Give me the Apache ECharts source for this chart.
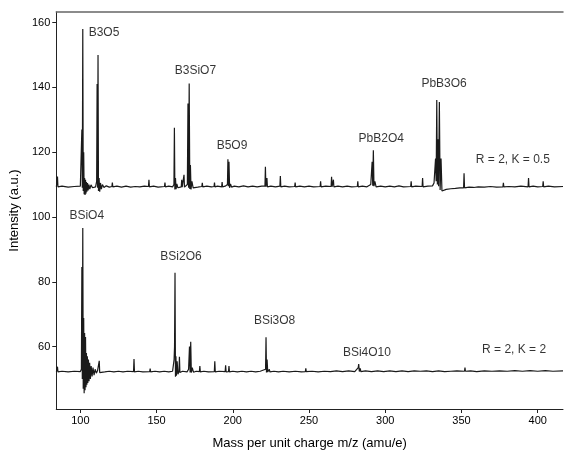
<!DOCTYPE html>
<html>
<head>
<meta charset="utf-8">
<script src="https://cdn.jsdelivr.net/npm/echarts@6/dist/echarts.min.js"></script>
<style>html,body{margin:0;padding:0;background:#fff}#c{width:564px;height:456px}</style>
</head>
<body>
<div id="c"></div>
<script>
// ---- data ----
var xTicks = [100, 150, 200, 250, 300, 350, 400];
var yTicks = [60, 80, 100, 120, 140, 160];
var xRange = [84.2, 416.6];
var yRange = [40.75, 163.24];

// upper trace (R = 2, K = 0.5): [m/z, intensity]
var upperTrace = [
[84.3,109.3],[84.8,109.5],[85,112.5],[85.3,109.3],[88,109.5],[92,109.2],[96,109.4],[100,109.5],[100.6,110],[101.0,127],
[101.3,109],[101.6,158],[101.9,108],[102.2,120],[102.5,107],[102.8,112],[103.1,106.8],[103.4,111.5],[103.7,107.2],[104.0,110.8],
[104.3,107.8],[104.7,110.5],[105.1,108.2],[105.6,110],[106.2,108.6],[107,109.9],[108,109],[109,109.6],[110,109.3],[110.7,111],
[111.0,141],[111.3,109],[111.6,150],[111.9,108],[112.3,112],[112.7,107.8],[113.2,110.5],[113.8,108.6],[114.5,110],[115.5,109.1],
[117,109.6],[119,109.2],[120.7,109.4],[121,110.6],[121.3,109.3],[124,109.5],[127,109.2],[130,109.5],[133,109.2],[136,109.4],
[139,109.3],[142,109.5],[144.7,109.4],[145,111.5],[145.3,109.3],[148,109.5],[151,109.2],[155.2,109.4],[155.5,110.6],[155.8,109.3],
[158,109.5],[160.5,109.3],[161.4,110],[161.7,127.5],[162,108.5],[162.4,112],[162.8,108.6],[163.3,110.2],[164,109],[165,109.6],
[166.2,109.3],[166.5,111.5],[166.8,109.2],[167.7,109.4],[168,113],[168.3,109.2],[169,109.6],[170.2,110],[170.6,135],[171,109],
[171.4,141.2],[171.8,108.6],[172.2,116],[172.6,108.5],[173.2,111],[174,109],[175,109.6],[177,109.2],[179.7,109.4],[180,110.5],
[180.3,109.3],[183,109.5],[186,109.3],[187.7,109.4],[188,110.6],[188.3,109.3],[190,109.5],[192.7,109.3],[193,110.8],[193.3,109.3],
[195,109.5],[196.5,110],[196.8,117.8],[197.1,109.5],[197.5,117],[197.9,109],[198.5,110.2],[199.2,109.2],[201,109.5],[204,109.3],
[207,109.6],[210,109.3],[213,109.5],[216,109.3],[219,109.5],[221.1,109.5],[221.4,115.5],[221.7,109.3],[222.1,109.6],[222.4,112],
[222.7,109.3],[225,109.5],[228,109.3],[230.9,109.5],[231.2,112.6],[231.5,109.3],[234,109.5],[237,109.3],[240.6,109.4],[240.9,110.6],
[241.2,109.3],[244,109.5],[247,109.3],[250,109.5],[253,109.3],[257.3,109.4],[257.6,111],[257.9,109.3],[261,109.5],[264.5,109.4],
[264.8,112.4],[265.1,109.3],[265.7,109.5],[266,111.5],[266.3,109.3],[269,109.5],[272,109.3],[275,109.5],[278,109.3],[281.7,109.4],
[282,111],[282.3,109.3],[285,109.5],[288,109.3],[290.5,110],[291.4,117],[291.8,109.6],[292.2,120.6],[292.6,109.5],[293.2,111],
[294,109.3],[297,109.5],[300,109.3],[303,109.5],[306,109.3],[309,109.6],[312,109.3],[316.7,109.4],[317,111],[317.3,109.3],
[320,109.5],[324.2,109.4],[324.5,112],[324.8,109.3],[328,109.5],[331,109.6],[332,110.5],[333,118],[333.4,111],[333.8,136.1],
[334.2,110],[334.6,124],[335,109.5],[335.5,135.5],[336,108.3],[336.6,118],[337.2,108],[338,108.3],[340,108.5],[343,108.7],
[346,108.8],[349,109],[351.4,109],[351.7,113.5],[352,109],[355,109.2],[358,109.1],[361,109.3],[365,109.2],[369,109.4],
[373,109.2],[377.2,109.3],[377.5,110.5],[377.8,109.3],[381,109.4],[385,109.3],[389,109.5],[393.7,109.3],[394,112],[394.3,109.3],
[397,109.5],[400,109.3],[403.3,109.4],[403.6,111],[403.9,109.3],[407,109.5],[411,109.3],[416.6,109.4]
];

// lower trace (R = 2, K = 2): [m/z, intensity]
var lowerTrace = [
[84.3,52.3],[84.8,52.4],[85,53.8],[85.3,52.2],[88,52.4],[92,52.2],[96,52.4],[100,52.3],[100.7,53],[101.0,84.6],
[101.3,50],[101.6,96.6],[101.9,47],[102.2,68.8],[102.5,45.6],[102.8,64.2],[103.1,46.5],[103.4,63],[103.7,47.5],[104.0,58],
[104.3,48.2],[104.6,57],[104.9,48.8],[105.3,56],[105.7,49.3],[106.1,55],[106.6,50],[107.1,54],[107.7,50.8],[108.3,53.5],
[109,51.2],[109.7,53],[110.5,51.8],[111.3,52.6],[112.1,52.1],[112.4,55.6],[112.7,52],[114,52.4],[116,52.2],[119,52.4],
[122,52.2],[125,52.4],[128,52.2],[131,52.4],[134.9,52.3],[135.2,56.2],[135.5,52.2],[138,52.4],[141,52.2],[145.5,52.3],
[145.8,53.2],[146.1,52.2],[149,52.4],[152,52.2],[155,52.4],[158,52.2],[160.5,52.4],[161.5,56],[161.8,60],[162.1,82.8],
[162.4,50.7],[162.7,57],[163,51],[163.5,55.5],[164,51.5],[164.7,52.3],[165,56.9],[165.3,52],[167,52.4],[170,52.2],
[171,53],[171.6,60],[172,52],[172.4,61.5],[172.8,52],[173.4,53.5],[174.2,52.1],[176,52.4],[178.1,52.3],[178.4,54],
[178.7,52.2],[181,52.4],[184,52.2],[187.9,52.3],[188.2,55.5],[188.5,52.2],[191,52.4],[195,52.3],[195.3,54.2],[195.6,52.2],
[197.2,52.3],[197.5,54],[197.8,52.2],[200,52.4],[203,52.2],[206,52.4],[209,52.2],[212,52.4],[215,52.2],[218,52.4],
[221.5,53],[221.8,62.9],[222.1,52],[222.5,56],[222.9,52.2],[223.7,52.3],[224,53],[224.3,52.2],[227,52.4],[230,52.2],
[233,52.4],[237,52.2],[241,52.4],[245,52.2],[247.6,52.3],[247.9,53.3],[248.2,52.3],[252,52.4],[256,52.2],[260,52.4],
[264,52.3],[268,52.5],[272,52.3],[276,52.5],[280,52.3],[282.3,53.5],[282.6,54.6],[283,52.3],[283.6,53.3],[284,52.3],
[287,52.5],[291,52.3],[295,52.5],[299,52.3],[303,52.5],[307,52.3],[311,52.5],[315,52.3],[319,52.5],[323,52.4],
[327,52.5],[331,52.3],[335,52.5],[339,52.3],[343.1,52.4],[343.4,53],[343.7,52.4],[347,52.5],[352,52.4],[352.3,53.5],
[352.6,52.4],[356,52.5],[360,52.3],[365,52.5],[370,52.4],[375,52.5],[380,52.4],[385,52.6],[390,52.4],[395,52.6],
[400,52.4],[405,52.6],[410,52.4],[416.6,52.5]
];

// annotations: [text, m/z, intensity]
var annotations = [
["B3O5", 115.5, 156.8],
["B3SiO7", 175.5, 145.1],
["B5O9", 199.5, 122],
["PbB2O4", 297.4, 124.3],
["PbB3O6", 338.6, 141.2],
["R = 2, K = 0.5", 383.7, 117.6],
["BSiO4", 104.2, 100.3],
["BSi2O6", 166, 87.7],
["BSi3O8", 227.4, 68],
["BSi4O10", 288, 58.1],
["R = 2, K = 2", 384.5, 58.9]
];

// ---- chart ----
var FONT = '"Liberation Sans", Arial, sans-serif';
var chart = echarts.init(document.getElementById('c'), null, {renderer: 'canvas'});
var axisColor = '#222';
chart.setOption({
  animation: false,
  backgroundColor: '#fff',
  grid: {left: 53, right: 1, top: 12, bottom: 47, containLabel: false},
  xAxis: [{
    type: 'value', min: xRange[0], max: xRange[1],
    name: 'Mass per unit charge m/z (amu/e)', nameLocation: 'middle', nameGap: 28,
    nameTextStyle: {fontFamily: FONT, fontSize: 13, color: '#000'},
    axisLine: {show: true, lineStyle: {color: axisColor, width: 1}},
    axisTick: {show: true, length: 4, inside: false, customValues: xTicks, lineStyle: {color: axisColor}},
    axisLabel: {fontFamily: FONT, fontSize: 11, color: '#000', margin: 6, customValues: xTicks},
    splitLine: {show: false}
  }, {
    type: 'value', position: 'top', min: xRange[0], max: xRange[1],
    axisLine: {show: true, lineStyle: {color: '#666', width: 1.5}},
    axisTick: {show: false}, axisLabel: {show: false}, splitLine: {show: false}
  }],
  yAxis: {
    type: 'value', min: yRange[0], max: yRange[1],
    name: 'Intensity (a.u.)', nameLocation: 'middle', nameGap: 30, nameRotate: 90,
    nameTextStyle: {fontFamily: FONT, fontSize: 13, color: '#000'},
    axisLine: {show: true, lineStyle: {color: axisColor, width: 1}},
    axisTick: {show: true, length: 4, customValues: yTicks, lineStyle: {color: axisColor}},
    axisLabel: {fontFamily: FONT, fontSize: 11, color: '#000', margin: 6, customValues: yTicks},
    splitLine: {show: false}
  },
  series: [{
    type: 'line', xAxisIndex: 0, data: upperTrace, showSymbol: false, symbol: 'none',
    lineStyle: {color: '#1a1a1a', width: 1.2}, silent: true
  }, {
    type: 'line', xAxisIndex: 0, data: lowerTrace, showSymbol: false, symbol: 'none',
    lineStyle: {color: '#1a1a1a', width: 1.2}, silent: true
  }, {
    type: 'scatter', xAxisIndex: 0, symbolSize: 0, silent: true,
    data: annotations.map(function (a) { return [a[1], a[2], a[0]]; }),
    label: {
      show: true, position: 'inside', fontFamily: FONT, fontSize: 12, color: '#000',
      formatter: function (p) { return p.data[2]; }
    }
  }]
});
</script>
</body>
</html>
